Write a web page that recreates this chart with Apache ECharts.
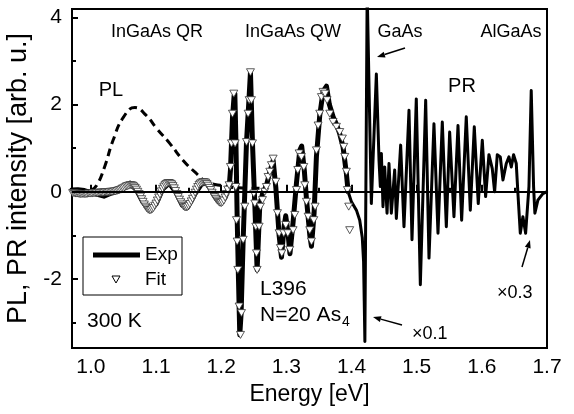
<!DOCTYPE html>
<html>
<head>
<meta charset="utf-8">
<script src="https://cdn.jsdelivr.net/npm/echarts@6/dist/echarts.min.js"></script>
<style>
html, body { margin: 0; padding: 0; background: #fff; }
#chart { width: 574px; height: 414px; }
</style>
</head>
<body>
<div id="chart"></div>
<script>
// tick positions
var xMajor = [1.0, 1.1, 1.2, 1.3, 1.4, 1.5, 1.6, 1.7];
var xMinor = [1.05, 1.15, 1.25, 1.35, 1.45, 1.55, 1.65];
var yMajor = [-2, 0, 2, 4];
var yMinor = [-3, -1, 1, 3];

// PL spectrum (dashed)
var plCurve = [
    [1.000, 0.03], [1.009, 0.15], [1.021, 0.57], [1.034, 1.18], [1.050, 1.71],
    [1.0675, 1.93], [1.085, 1.75], [1.101, 1.45], [1.121, 1.11], [1.1416, 0.72],
    [1.162, 0.42], [1.1775, 0.23], [1.198, 0.15], [1.22, 0.10], [1.26, 0.08]
];

// PR experiment, QR + QW part (thick)
var expMain = [
    [0.971, 0.04], [0.98, 0.05], [0.99, 0.03], [1.0, -0.02], [1.01, -0.06], [1.02, -0.1],
    [1.03, -0.04], [1.04, 0.02], [1.05, 0.1], [1.06, 0.2], [1.07, 0.04], [1.08, -0.24],
    [1.09, -0.42], [1.10, -0.28], [1.11, 0.06], [1.12, 0.2], [1.13, 0.0], [1.14, -0.3],
    [1.148, -0.36], [1.16, -0.04], [1.17, 0.18], [1.178, 0.2], [1.19, -0.08], [1.20, -0.2],
    [1.206, -0.12], [1.2122, 0.1],
    [1.2142, 0.5], [1.2173, 1.7], [1.2198, 2.2], [1.2209, 2.25], [1.2224, 1.3], [1.2245, -0.6],
    [1.2265, -2.0], [1.2285, -3.28], [1.2305, -2.8], [1.2337, -1.1], [1.2388, 1.14], [1.2429, 2.2],
    [1.2449, 2.74], [1.248, 1.11], [1.2516, -0.3], [1.2551, -1.79], [1.2592, -0.3], [1.2633, -0.05],
    [1.2694, 0.15], [1.2746, 0.45], [1.2797, 0.72], [1.2838, 0.1], [1.2889, -1.0], [1.2925, -1.5],
    [1.2965, -0.8], [1.299, -0.55], [1.3022, -0.9], [1.3055, -1.42], [1.3103, -0.7], [1.3155, 0.2],
    [1.3206, 0.95], [1.3235, 1.05], [1.3275, 0.5], [1.3308, -0.15], [1.336, -1.0], [1.3385, -1.25],
    [1.3425, -0.5], [1.3461, 0.8], [1.3512, 1.75], [1.3564, 2.3], [1.3615, 2.42], [1.366, 2.0],
    [1.3717, 1.72], [1.3768, 1.55], [1.3819, 1.33], [1.387, 1.03], [1.3921, 0.42], [1.3948, 0.0]
];

// PR experiment, GaAs + AlGaAs part (thinner)
var expPr = [
    [1.3948, 0.0], [1.3997, -0.22], [1.4075, -0.42], [1.4126, -0.65], [1.4165, -1.05],
    [1.4185, -1.6], [1.4195, -2.5], [1.4205, -3.43], [1.424, 4.6], [1.4265, 4.6],
    [1.4304, -0.27], [1.4381, 2.70], [1.4422, 0.72], [1.4442, 0.12], [1.4458, 0.88],
    [1.4483, -0.34], [1.4509, 0.57], [1.4545, -0.49], [1.4575, 0.65], [1.4611, -0.49],
    [1.4662, 0.50], [1.4688, -0.61], [1.4754, 1.07], [1.4805, -0.80], [1.4882, 1.87],
    [1.4928, -1.10], [1.4994, 2.13], [1.5056, -2.13], [1.5138, 2.10], [1.5189, -1.52],
    [1.5265, 1.56], [1.5327, -0.95], [1.5393, 1.60], [1.5455, -0.80], [1.5506, 1.37],
    [1.5572, -0.57], [1.5634, 1.52], [1.5690, -0.65], [1.5761, 1.72], [1.5823, -0.42],
    [1.5884, 1.49], [1.5945, -0.27], [1.6007, 1.18], [1.6058, -0.11], [1.6109, 0.85],
    [1.616, 0.53], [1.6196, 0.0], [1.6237, 0.85], [1.6283, 0.80], [1.6324, 0.27],
    [1.6375, 0.65], [1.6416, 0.80], [1.6452, 0.57], [1.6487, 0.85], [1.6528, 0.65],
    [1.6554, -0.04], [1.659, -0.95], [1.663, -0.57], [1.6672, -0.95], [1.6723, 0.12],
    [1.6758, 2.32], [1.6794, 0.12], [1.6814, -0.49], [1.686, -0.19], [1.6937, -0.04],
    [1.6994, 0.0]
];

// fit, QR region (dense triangles forming a band)
var fitQr = [
    [0.972, -0.03], [0.974, -0.03], [0.976, -0.04], [0.978, -0.04], [0.980, -0.04], [0.982, -0.05],
    [0.984, -0.05], [0.986, -0.05], [0.988, -0.05], [0.990, -0.05], [0.992, -0.05], [0.994, -0.05],
    [0.996, -0.04], [0.998, -0.04], [1.000, -0.04], [1.002, -0.04], [1.004, -0.03], [1.006, -0.03],
    [1.008, -0.03], [1.010, -0.03], [1.012, -0.02], [1.014, -0.02], [1.016, -0.02], [1.018, -0.02],
    [1.020, -0.02], [1.022, -0.01], [1.024, -0.01], [1.026, -0.01], [1.028, -0.01], [1.030, 0.0],
    [1.032, 0.0], [1.034, 0.0], [1.036, 0.01], [1.038, 0.01], [1.040, 0.02], [1.042, 0.03],
    [1.044, 0.04], [1.046, 0.05], [1.048, 0.07], [1.050, 0.08], [1.052, 0.10], [1.054, 0.12],
    [1.056, 0.13], [1.058, 0.14], [1.060, 0.15], [1.062, 0.15], [1.064, 0.14], [1.066, 0.12],
    [1.068, 0.09], [1.070, 0.05], [1.072, 0.0], [1.074, -0.05], [1.076, -0.11], [1.078, -0.17],
    [1.080, -0.23], [1.082, -0.29], [1.084, -0.34], [1.086, -0.38], [1.088, -0.41], [1.090, -0.42],
    [1.092, -0.42], [1.094, -0.40], [1.096, -0.37], [1.098, -0.32], [1.100, -0.27], [1.102, -0.20],
    [1.104, -0.13], [1.106, -0.06], [1.108, 0.01], [1.110, 0.07], [1.112, 0.12], [1.114, 0.16],
    [1.116, 0.18], [1.118, 0.20], [1.120, 0.20], [1.122, 0.19], [1.124, 0.17], [1.126, 0.13],
    [1.128, 0.08], [1.130, 0.02], [1.132, -0.05], [1.134, -0.12], [1.136, -0.18], [1.138, -0.24],
    [1.140, -0.29], [1.142, -0.33], [1.144, -0.35], [1.146, -0.36], [1.148, -0.35], [1.150, -0.32],
    [1.152, -0.28], [1.154, -0.22], [1.156, -0.16], [1.158, -0.09], [1.160, -0.02], [1.162, 0.05],
    [1.164, 0.11], [1.166, 0.16], [1.168, 0.19], [1.170, 0.21], [1.172, 0.22], [1.174, 0.22],
    [1.176, 0.21], [1.178, 0.18], [1.180, 0.14], [1.182, 0.09], [1.184, 0.04], [1.186, -0.02],
    [1.188, -0.07], [1.190, -0.12], [1.192, -0.16], [1.194, -0.20], [1.196, -0.23], [1.198, -0.25],
    [1.200, -0.26], [1.202, -0.24], [1.204, -0.20], [1.206, -0.13], [1.208, -0.05], [1.210, 0.05]
];

// fit, QW region
var fitQw = [
    [1.2122, 0.15], [1.2142, 0.57], [1.2158, 1.11], [1.2173, 1.79], [1.2193, 2.25], [1.2214, 1.11],
    [1.2224, 0.11], [1.2234, -0.65], [1.2245, -1.14], [1.2255, -1.79], [1.2275, -2.63], [1.2296, -3.28],
    [1.2311, -2.78], [1.2337, -1.10], [1.2362, -0.34], [1.2388, 1.14], [1.2413, 1.79], [1.2429, 2.10],
    [1.2449, 2.74], [1.2464, 2.10], [1.2480, 1.11], [1.2500, -0.04], [1.2516, -0.27], [1.2531, -0.80],
    [1.2541, -1.41], [1.2551, -1.79], [1.2582, -0.80], [1.2602, -0.34], [1.2633, -0.19], [1.2669, 0.0],
    [1.2694, 0.11], [1.2720, 0.34], [1.2746, 0.46], [1.2771, 0.61], [1.2797, 0.76], [1.2838, 0.23],
    [1.2863, -0.49], [1.2889, -0.95], [1.2909, -1.29], [1.2930, -1.41], [1.2960, -0.95], [1.2991, -0.76],
    [1.3022, -0.95], [1.3052, -1.33], [1.3103, -0.88], [1.3129, -0.53], [1.3155, 0.04], [1.3175, 0.50],
    [1.3196, 0.88], [1.3231, 0.80], [1.3267, 0.57], [1.3283, 0.15], [1.3308, -0.23], [1.3334, -0.57],
    [1.3359, -0.88], [1.3385, -1.14], [1.3421, -0.65], [1.3441, -0.34], [1.3461, 0.95], [1.3487, 1.52],
    [1.3512, 1.79], [1.3538, 2.17], [1.3564, 2.29], [1.3594, 2.25], [1.3625, 2.10], [1.3666, 1.79],
    [1.3717, 1.60], [1.3768, 1.49], [1.3819, 1.37], [1.3860, 1.22], [1.3881, 1.03], [1.3896, 0.80],
    [1.3921, 0.46], [1.3937, 0.04], [1.3957, -0.34], [1.3972, -0.88]
];

var font = 'Liberation Sans, Arial, sans-serif';

var chart = echarts.init(document.getElementById('chart'));

function arrow(x1, y1, x2, y2) {
    var dx = x2 - x1, dy = y2 - y1, len = Math.sqrt(dx * dx + dy * dy);
    var ux = dx / len, uy = dy / len;
    var bx = x2 - 8 * ux, by = y2 - 8 * uy;
    return [
        { type: 'line', z: 10, shape: { x1: x1, y1: y1, x2: bx, y2: by }, style: { stroke: '#000', lineWidth: 1.5 } },
        { type: 'polygon', z: 10, shape: { points: [[x2, y2], [bx - 3 * uy, by + 3 * ux], [bx + 3 * uy, by - 3 * ux]] }, style: { fill: '#000' } }
    ];
}

function label(x, y, text, size, align) {
    return {
        type: 'text', x: x, y: y, z: 10,
        style: { text: text, fontSize: size, fontFamily: font, fill: '#000', align: align || 'center', verticalAlign: 'middle' }
    };
}

var graphics = [
    label(157, 32, 'InGaAs QR', 18),
    label(293, 32, 'InGaAs QW', 18),
    label(400, 32, 'GaAs', 18),
    label(511, 32, 'AlGaAs', 18),
    label(111, 90, 'PL', 20),
    label(462, 86, 'PR', 20),
    label(260, 289, 'L396', 21, 'left'),
    label(260, 315, 'N=20 As', 21, 'left'),
    label(342, 322, '4', 14, 'left'),
    label(87, 321, '300 K', 21, 'left'),
    label(412, 334, '\u00d70.1', 18, 'left'),
    label(497, 293, '\u00d70.3', 18, 'left'),
    // legend box
    { type: 'rect', z: 10, shape: { x: 83, y: 237, width: 99, height: 58 }, style: { fill: '#fff', stroke: '#000', lineWidth: 1 } },
    { type: 'line', z: 11, shape: { x1: 93, y1: 255, x2: 140, y2: 255 }, style: { stroke: '#000', lineWidth: 5 } },
    label(145, 255, 'Exp', 19, 'left'),
    { type: 'polygon', z: 11, shape: { points: [[112, 276], [120, 276], [116, 283]] }, style: { fill: '#fff', stroke: '#000', lineWidth: 1 } },
    label(145, 280, 'Fit', 19, 'left')
].concat(arrow(405, 48, 377, 57), arrow(402, 325, 373, 317), arrow(522, 267, 530, 240));

var option = {
    animation: false,
    backgroundColor: '#fff',
    grid: {
        left: 72, right: 27, top: 9, bottom: 66, containLabel: false, outerBoundsMode: 'none',
        show: true, borderColor: '#000', borderWidth: 2, backgroundColor: 'transparent'
    },
    xAxis: [
        {
            type: 'value', min: 0.971, max: 1.7, position: 'bottom',
            name: 'Energy [eV]', nameLocation: 'middle', nameGap: 32,
            nameTextStyle: { fontSize: 23, fontFamily: font, color: '#000' },
            axisLine: { show: true, lineStyle: { color: '#000', width: 2 } },
            axisTick: { show: true, inside: true, length: 7, lineStyle: { color: '#000', width: 2 }, customValues: xMajor },
            axisLabel: { show: true, customValues: xMajor, margin: 9, fontSize: 21, fontFamily: font, color: '#000',
                formatter: function (v) { return v.toFixed(1); } },
            splitLine: { show: false }
        },
        {
            type: 'value', min: 0.971, max: 1.7, position: 'bottom', offset: 0,
            axisLine: { show: false },
            axisTick: { show: true, inside: true, length: 4, lineStyle: { color: '#000', width: 2 }, customValues: xMinor },
            axisLabel: { show: false },
            splitLine: { show: false }
        }
    ],
    yAxis: [
        {
            type: 'value', min: -3.58, max: 4.19, position: 'left',
            name: 'PL, PR intensity [arb. u.]', nameLocation: 'middle', nameGap: 30, nameRotate: 90,
            nameTextStyle: { fontSize: 27, fontFamily: font, color: '#000' },
            axisLine: { show: true, lineStyle: { color: '#000', width: 2 } },
            axisTick: { show: true, inside: true, length: 6, lineStyle: { color: '#000', width: 2 }, customValues: yMajor },
            axisLabel: { show: true, customValues: yMajor, margin: 10, fontSize: 21, fontFamily: font, color: '#000' },
            splitLine: { show: false }
        },
        {
            type: 'value', min: -3.58, max: 4.19, position: 'left', offset: 0,
            axisLine: { show: false },
            axisTick: { show: true, inside: true, length: 4, lineStyle: { color: '#000', width: 2 }, customValues: yMinor },
            axisLabel: { show: false },
            splitLine: { show: false }
        }
    ],
    series: [
        {
            name: 'PL', type: 'line', data: plCurve, smooth: true, showSymbol: false, z: 2,
            lineStyle: { color: '#000', width: 3, type: [8, 5] }
        },
        {
            name: 'Exp', type: 'line', data: expMain, showSymbol: false, z: 3,
            lineStyle: { color: '#000', width: 5, join: 'round', cap: 'round' }
        },
        {
            name: 'Exp PR', type: 'line', data: expPr, showSymbol: false, z: 3,
            lineStyle: { color: '#000', width: 3, join: 'round', cap: 'round' }
        },
        {
            name: 'Fit', type: 'scatter', data: fitQr.concat(fitQw), z: 4,
            symbol: 'triangle', symbolRotate: 180, symbolSize: [8, 7],
            itemStyle: { color: '#fff', borderColor: '#333', borderWidth: 0.8, opacity: 1 }
        },
        {
            name: 'zero', type: 'line', data: [], z: 5,
            markLine: {
                silent: true, symbol: 'none', label: { show: false },
                lineStyle: { color: '#000', width: 2, type: 'solid' },
                data: [{ yAxis: 0 }]
            }
        }
    ],
    graphic: graphics
};

chart.setOption(option);
</script>
</body>
</html>
